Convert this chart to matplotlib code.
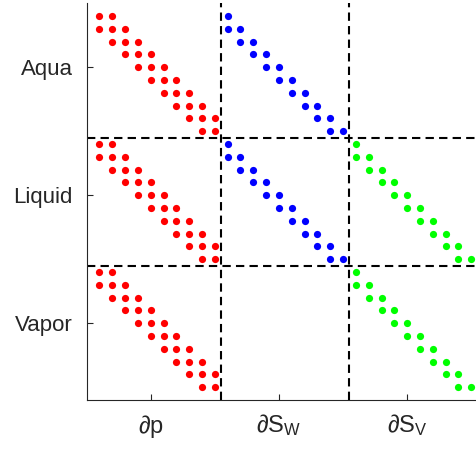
import numpy as np
import matplotlib
matplotlib.use("Agg")
import matplotlib.pyplot as plt

plt.rcParams["font.family"] = ["Liberation Sans", "DejaVu Sans"]
plt.rcParams["mathtext.fontset"] = "custom"
plt.rcParams["mathtext.rm"] = "Liberation Sans"
plt.rcParams["mathtext.it"] = "Liberation Sans:italic"

n = 10  # cells per phase
row_labels = ["Aqua", "Liquid", "Vapor"]
col_labels = [r"$\partial$p", r"$\partial$S$_\mathrm{W}$", r"$\partial$S$_\mathrm{V}$"]

# (row block, col block, diagonal offsets, colour)
blocks = [
    (0, 0, [-1, 0, 1], "red"),
    (1, 0, [-1, 0, 1], "red"),
    (2, 0, [-1, 0, 1], "red"),
    (0, 1, [-1, 0], "blue"),
    (1, 1, [-1, 0], "blue"),
    (1, 2, [-1, 0], "lime"),
    (2, 2, [-1, 0], "lime"),
]

fig = plt.figure(figsize=(4.76, 4.51), dpi=100)
ax = fig.add_axes([0.182, 0.113, 0.835, 0.880])
dark = (0.15, 0.15, 0.15)

for rb, cb, offsets, color in blocks:
    sub = np.zeros((n, n))
    for k in offsets:
        sub += np.diag(np.ones(n - abs(k)), k)
    r, c = np.nonzero(sub)
    ax.plot(c + 1 + cb * n, r + 1 + rb * n, "o", color=color,
            markersize=5.2, markeredgewidth=0)

for k in range(1, 3):
    ax.axvline(k * n + 0.5, color="k", lw=1.5, ls=(0, (4, 2.5)))
    ax.axhline(k * n + 0.5, color="k", lw=1.5, ls=(0, (4, 2.5)))

ax.set_xlim(0, 3 * n + 1)
ax.set_ylim(3 * n + 1, 0)
centers = [n / 2 + i * n for i in range(3)]
ax.set_xticks(centers)
ax.set_xticklabels(col_labels, fontsize=17, color=dark)
ax.set_yticks(centers)
ax.set_yticklabels(row_labels, fontsize=16, color=dark)
ax.tick_params(direction="in", length=4, color=dark, pad=10)
ax.tick_params(axis="x", pad=9)
ax.spines["top"].set_visible(False)
ax.spines["right"].set_visible(False)
ax.spines["left"].set_color(dark)
ax.spines["bottom"].set_color(dark)

fig.savefig("out.png", dpi=100)
